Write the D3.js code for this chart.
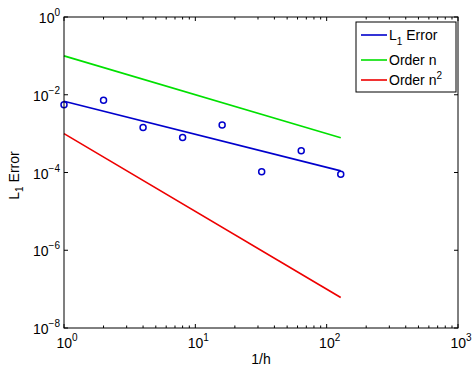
<!DOCTYPE html>
<html><head><meta charset="utf-8">
<script src="https://cdn.jsdelivr.net/npm/d3@7"></script>
<style>body{margin:0;background:#fff}svg{display:block}</style>
</head><body>
<script>
// data
const hInv = [1, 2, 4, 8, 16, 32, 64, 128];
const l1Err = [5.5e-3, 7.2e-3, 1.43e-3, 7.9e-4, 1.67e-3, 1.05e-4, 3.6e-4, 9.0e-5];
const fitX = [1, 128];
const fitY = [6.8e-3, 1.1e-4];
const orderNY = [0.1, 7.8e-4];
const orderN2Y = [1e-3, 6.1e-8];
const xTickExps = [0, 1, 2, 3];
const yTickExps = [0, -2, -4, -6, -8];

const W = 474, H = 370;
const m = {l: 64, r: 458, t: 17, b: 328};
const font = "'Liberation Sans', Arial, Helvetica, sans-serif";

const svg = d3.select("body").append("svg").attr("width", W).attr("height", H)
  .style("font-family", font);

const x = d3.scaleLog().domain([1, 1000]).range([m.l, m.r]);
const y = d3.scaleLog().domain([1e-8, 1]).range([m.b, m.t]);

// axes with inward ticks
const xMajor = xTickExps.map(e => Math.pow(10, e));
const xMinor = [];
for (let e = 0; e < 3; e++) for (let k = 2; k <= 9; k++) xMinor.push(k * Math.pow(10, e));
const yMajor = yTickExps.map(e => Math.pow(10, e));

const g = svg.append("g");
g.append("rect").attr("x", m.l).attr("y", m.t).attr("width", m.r - m.l).attr("height", m.b - m.t)
  .attr("fill", "#fff").attr("stroke", "none");

function tickLines(vals, len) {
  vals.forEach(v => {
    const px = x(v);
    g.append("line").attr("x1", px).attr("x2", px).attr("y1", m.b).attr("y2", m.b - len).attr("stroke", "#000");
    g.append("line").attr("x1", px).attr("x2", px).attr("y1", m.t).attr("y2", m.t + len).attr("stroke", "#000");
  });
}
tickLines(xMajor, 4);
tickLines(xMinor, 2.5);
yMajor.forEach(v => {
  const py = y(v);
  g.append("line").attr("x1", m.l).attr("x2", m.l + 4).attr("y1", py).attr("y2", py).attr("stroke", "#000");
  g.append("line").attr("x1", m.r).attr("x2", m.r - 4).attr("y1", py).attr("y2", py).attr("stroke", "#000");
});

// tick labels
xTickExps.forEach(e => {
  const t = svg.append("text").attr("x", x(Math.pow(10, e)) + 3).attr("y", 348)
    .attr("text-anchor", "middle").attr("font-size", 14).attr("fill", "#000");
  t.append("tspan").text("10");
  t.append("tspan").attr("dy", -7).attr("font-size", 10).text(e);
});
yTickExps.forEach(e => {
  const t = svg.append("text").attr("x", 60).attr("y", y(Math.pow(10, e)) + 6)
    .attr("text-anchor", "end").attr("font-size", 14).attr("fill", "#000");
  t.append("tspan").text("10");
  t.append("tspan").attr("dy", -7).attr("font-size", 10).text(e === 0 ? "0" : "\u2212" + (-e));
});

// axis labels
svg.append("text").attr("x", (m.l + m.r) / 2).attr("y", 364)
  .attr("text-anchor", "middle").attr("font-size", 14).text("1/h");
const yl = svg.append("text").attr("transform", `translate(19,${(m.t + m.b) / 2 + 3}) rotate(-90)`)
  .attr("text-anchor", "middle").attr("font-size", 14);
yl.append("tspan").text("L");
yl.append("tspan").attr("dy", 4).attr("font-size", 10).text("1");
yl.append("tspan").attr("dy", -4).text(" Error");

// lines
const line = d3.line().x(d => x(d[0])).y(d => y(d[1]));
const plot = svg.append("g");
plot.append("path").datum(fitX.map((v, i) => [v, orderNY[i]])).attr("d", line)
  .attr("fill", "none").attr("stroke", "#00e000").attr("stroke-width", 1.6);
plot.append("path").datum(fitX.map((v, i) => [v, orderN2Y[i]])).attr("d", line)
  .attr("fill", "none").attr("stroke", "#ee0000").attr("stroke-width", 1.6);
plot.append("path").datum(fitX.map((v, i) => [v, fitY[i]])).attr("d", line)
  .attr("fill", "none").attr("stroke", "#0000cc").attr("stroke-width", 1.6);
plot.selectAll("circle").data(hInv).enter().append("circle")
  .attr("cx", d => x(d)).attr("cy", (d, i) => y(l1Err[i])).attr("r", 3)
  .attr("fill", "none").attr("stroke", "#0000cc").attr("stroke-width", 1.5);

// frame
svg.append("rect").attr("x", m.l).attr("y", m.t).attr("width", m.r - m.l).attr("height", m.b - m.t)
  .attr("fill", "none").attr("stroke", "#000").attr("stroke-width", 1);

// legend
const lg = svg.append("g");
lg.append("rect").attr("x", 356).attr("y", 22).attr("width", 100).attr("height", 70)
  .attr("fill", "#fff").attr("stroke", "#000");
const items = [
  {c: "#0000cc", y: 35, label: "L", sub: "1", rest: " Error"},
  {c: "#00e000", y: 60, label: "Order n"},
  {c: "#ee0000", y: 80, label: "Order n", sup: "2"}
];
items.forEach(it => {
  lg.append("line").attr("x1", 361).attr("x2", 387).attr("y1", it.y).attr("y2", it.y)
    .attr("stroke", it.c).attr("stroke-width", 1.6);
  const t = lg.append("text").attr("x", 389).attr("y", it.y + 5).attr("font-size", 14);
  t.append("tspan").text(it.label);
  if (it.sub) {
    t.append("tspan").attr("dy", 5).attr("font-size", 10).text(it.sub);
    t.append("tspan").attr("dy", -5).text(it.rest);
  }
  if (it.sup) t.append("tspan").attr("dy", -6).attr("font-size", 10).text(it.sup);
});
</script>
</body></html>
